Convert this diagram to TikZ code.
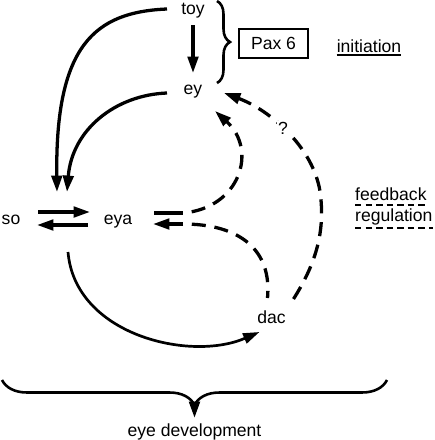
\documentclass[tikz,border=0pt]{standalone}
\usepackage{fontspec}
\setmainfont{Liberation Sans}
\usetikzlibrary{arrows.meta,decorations.pathreplacing}
\begin{document}
\begin{tikzpicture}[x=0.03cm,y=-0.03cm,
  font=\fontsize{15}{18}\selectfont,
  gene/.style={inner sep=0pt,anchor=base},
  arr/.style={line width=2.8pt,-{Triangle[length=14pt,width=9pt]}},
  fb/.style={line width=2.8pt,dash pattern=on 12pt off 7.5pt},
  fbarr/.style={fb,-{Triangle[length=14pt,width=9pt]}},
  ul/.style={line width=1.7pt}]
\useasboundingbox (0,0) rectangle (434,440);
%\draw[step=10,gray,very thin] (0,0) grid (434,440); %background grid
\node[gene] (toy) at (193,14) {toy};
\node[gene] (ey) at (193,94) {ey};
\node[gene] (so) at (11,224) {so};
\node[gene] (eya) at (118,224) {eya};
\node[gene] (dac) at (271.5,323) {dac};
\node[draw,line width=1.7pt,minimum width=2.07cm,minimum height=0.87cm,inner sep=0pt] (pax) at (273.5,43.5) {Pax 6};
\node[gene] (init) at (369,52) {initiation};
\node[gene,anchor=base west] (feed) at (355,200) {feedback};
\node[gene,anchor=base west] (reg) at (355,221) {regulation};
\node[gene] (dev) at (194.5,436) {eye development};
\coordinate (pair) at (62,192);
\coordinate (fbtop) at ([shift={(65,-11)}]eya.base);
\coordinate (fbbot) at ([shift={(65,0)}]eya.base);
\coordinate (devtip) at (194.5,404);
% initiation
\draw[arr] ([shift={(0,11)}]toy.base) -- ([shift={(0,-21)}]ey.base);
\draw[arr] ([shift={(-26,-5)}]toy.base) .. controls (95,12) and (55,45) .. ([shift={(-5,0)}]pair);
\draw[arr] ([shift={(-26,-1)}]ey.base) .. controls (115,95) and (72,130) .. ([shift={(5,0)}]pair);
\draw[arr] ([shift={(27,-12)}]so.base) -- ([shift={(-28,-12)}]eya.base);
\draw[arr] ([shift={(-30,1)}]eya.base) -- ([shift={(26,1)}]so.base);
\draw[line width=2.3pt,-{Triangle[length=14pt,width=9pt]}] ([shift={(57,28)}]so.base) .. controls (75,335) and (190,362) .. ([shift={(-12,9)}]dac.base);
% feedback
\draw[line width=2.8pt] ([shift={(36,-11)}]eya.base) -- (fbtop);
\draw[fbarr,dash phase=12pt] (fbtop) .. controls (240,208) and (258,150) .. ([shift={(22,17)}]ey.base);
\draw[fb,dash phase=12pt] (fbbot) .. controls (240,224) and (272,250) .. ([shift={(-4,-25)}]dac.base);
\draw[arr] (fbbot) -- ([shift={(35,0)}]eya.base);
\draw[fbarr] ([shift={(22,-24)}]dac.base) .. controls (315,265) and (324,235) .. (321,200)
  .. controls (318,150) and (270,110) .. node[pos=0.55,fill=white,inner sep=1pt] (q) {?} ([shift={(31,-1)}]ey.base);
% braces and underlines
\draw[line width=2.2pt,decorate,decoration={brace,amplitude=0.39cm}] (217,1) -- (217,83);
\draw[line width=2.2pt,decorate,decoration={brace,mirror,amplitude=0.75cm}] (2,380) -- (387,380);
\draw[arr] (devtip) -- ([shift={(0,-18)}]dev.base);
\draw[ul] ([yshift=-2.6pt]init.base west) -- ([yshift=-2.6pt]init.base east);
\draw[ul,dash pattern=on 5.5pt off 3.5pt] ([yshift=-4.3pt]feed.base west) -- ([yshift=-4.3pt]feed.base east);
\draw[ul,dash pattern=on 5.5pt off 3.5pt] ([yshift=-6pt]reg.base west) -- ([yshift=-6pt]reg.base east);
\end{tikzpicture}
\end{document}
